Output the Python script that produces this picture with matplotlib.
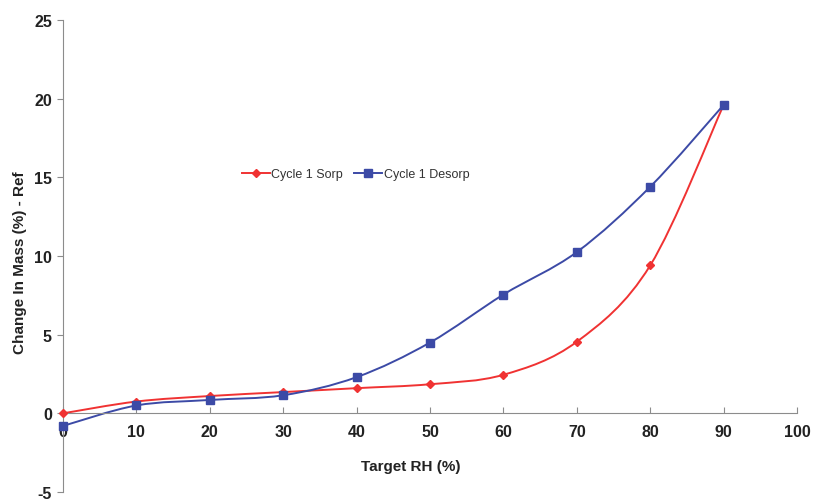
import numpy as np
import matplotlib.pyplot as plt
from matplotlib.path import Path
import matplotlib.patches as mpatches

### DATA ###

rh = [0, 10, 20, 30, 40, 50, 60, 70, 80, 90]
sorp = [0.0, 0.75, 1.1, 1.35, 1.6, 1.85, 2.45, 4.55, 9.4, 19.6]
desorp = [-0.8, 0.5, 0.85, 1.15, 2.3, 4.5, 7.55, 10.25, 14.4, 19.6]

red = "#f03232"
blue = "#3c4aa6"

plt.rcParams['font.family'] = ['Liberation Sans', 'DejaVu Sans']
plt.rcParams['axes.unicode_minus'] = False

# Excel-style smoothed line: cubic bezier through the points
def smooth_path(x, y):
    p = np.column_stack([x, y]).astype(float)
    n = len(p)
    verts = [p[0]]
    codes = [Path.MOVETO]
    for i in range(n - 1):
        prev = p[max(i - 1, 0)]
        nxt = p[min(i + 2, n - 1)]
        c1 = p[i] + (p[i + 1] - prev) / 6
        c2 = p[i + 1] - (nxt - p[i]) / 6
        verts += [c1, c2, p[i + 1]]
        codes += [Path.CURVE4] * 3
    return Path(verts, codes)

fig = plt.figure(figsize=(8.16, 5.02), dpi=100)
ax = fig.add_axes([63/816, 1 - 493/502, (797 - 63)/816, (493 - 21)/502])

for vals, col, mk, ms, lab in [(sorp, red, 'D', 4.5, "Cycle 1 Sorp"),
                               (desorp, blue, 's', 6, "Cycle 1 Desorp")]:
    ax.add_patch(mpatches.PathPatch(smooth_path(rh, vals), facecolor='none',
                                    edgecolor=col, lw=1.4, zorder=2, clip_on=False))
    ax.plot(rh, vals, lw=0, marker=mk, ms=ms, color=col, zorder=3, clip_on=False)
    ax.plot([], [], color=col, lw=1.4, marker=mk, ms=ms, label=lab)

ax.set_xlim(0, 100)
ax.set_ylim(-5, 25)
ax.set_xticks(range(0, 101, 10))
ax.set_yticks(range(-5, 26, 5))

for s in ['top', 'right']:
    ax.spines[s].set_visible(False)
ax.spines['bottom'].set_position(('data', 0))
ax.spines['bottom'].set_color('#8c8c8c')
ax.spines['left'].set_color('#8c8c8c')
ax.tick_params(axis='x', direction='in', length=4, color='#8c8c8c', pad=8,
               labelsize=11.5, labelcolor='#222222')
ax.tick_params(axis='y', direction='out', length=4, color='#8c8c8c', pad=4,
               labelsize=11.5, labelcolor='#222222')
for t in ax.get_xticklabels() + ax.get_yticklabels():
    t.set_fontweight('bold')

fig.text(411/816, 1 - 467/502, "Target RH (%)", ha='center', va='center',
         fontsize=11, fontweight='bold', color='#222222')
fig.text(20/816, 1 - 263/502, "Change In Mass (%) - Ref", ha='center', va='center',
         rotation=90, fontsize=11, fontweight='bold', color='#222222')

ax.legend(loc='center left', bbox_to_anchor=(242/816, 1 - 175/502),
          bbox_transform=fig.transFigure, ncol=2, frameon=False, fontsize=9,
          handlelength=2.2, handletextpad=0.15, columnspacing=0.9, borderpad=0,
          borderaxespad=0, labelcolor='#333333')

plt.savefig("out.png", dpi=100)
